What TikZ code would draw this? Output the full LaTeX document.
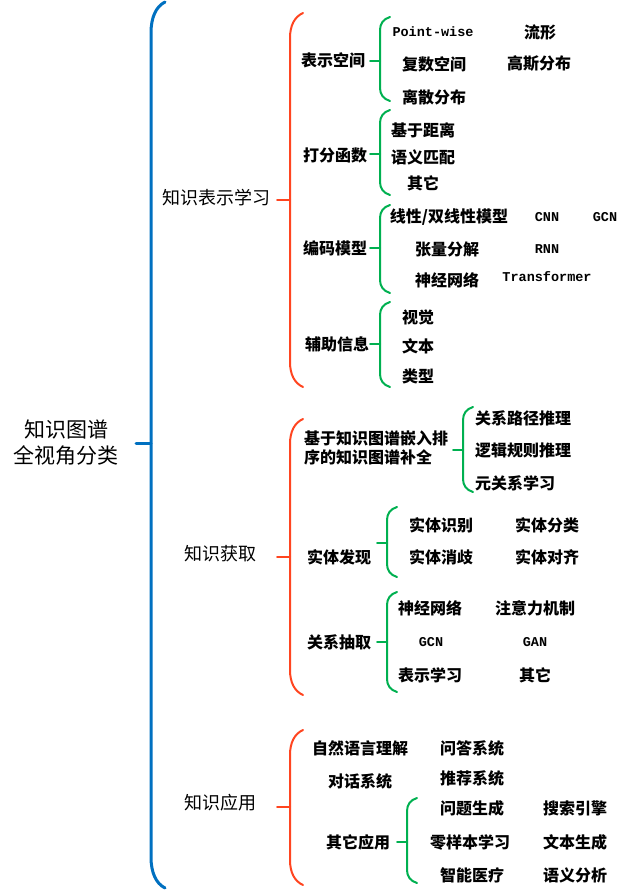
\documentclass[tikz,border=0pt]{standalone}
\usepackage{fontspec}
\setmainfont{Noto Sans CJK SC}
\newfontfamily\monofnt{Liberation Mono}
\definecolor{kgblue}{RGB}{0,112,192}
\definecolor{kgred}{RGB}{255,69,32}
\definecolor{kggreen}{RGB}{0,176,80}
% #1 style, #2 x, #3 top, #4 bottom, #5 dx, #6 dy
\newcommand{\bracepath}[6]{%
  \draw[#1] ({#2+#5},#3) .. controls ({#2+#5*0.35},{#3+#6*0.15}) and (#2,{#3+#6*0.5}) .. (#2,{#3+#6})
    -- (#2,{#4-#6}) .. controls (#2,{#4-#6*0.5}) and ({#2+#5*0.35},{#4-#6*0.15}) .. ({#2+#5},#4);}
\begin{document}
\begin{tikzpicture}[x=1pt,y=-1pt,
  root/.style={font=\fontsize{21}{26}\selectfont, align=center, inner sep=0pt},
  lvone/.style={font=\fontsize{18}{22}\selectfont, inner sep=0pt},
  lvtwo/.style={font=\fontsize{16}{19}\selectfont\bfseries, inner sep=0pt, align=left},
  leaf/.style={font=\fontsize{16}{19}\selectfont\bfseries, inner sep=0pt},
  mono/.style={font=\fontsize{13.5}{15}\selectfont\monofnt\bfseries, inner sep=0pt},
  bl/.style={draw=kgblue, line width=3pt, line cap=round},
  rl/.style={draw=kgred, line width=2pt, line cap=round},
  gl/.style={draw=kggreen, line width=2pt, line cap=round}]
\useasboundingbox (0,0) rectangle (626,893);

% root
\node[root] (root) at (66,443) {知识图谱\\全视角分类};
\bracepath{bl}{151}{2}{888}{14}{31}
\coordinate (B0) at (151,443);
\draw[bl] (B0) -- ++(-15,0);

% level 1
\node[lvone] (k1) at (216,198) {知识表示学习};
\node[lvone] (k2) at (220,554) {知识获取};
\node[lvone] (k3) at (220,803) {知识应用};

\bracepath{rl}{290}{13}{387}{13}{25}
\bracepath{rl}{290}{419}{695}{13}{25}
\bracepath{rl}{290}{730}{885}{13}{25}
\coordinate (R1) at (290,200);
\coordinate (R2) at (290,557);
\coordinate (R3) at (290,807);
\draw[rl] (R1) -- ++(-13,0);
\draw[rl] (R2) -- ++(-13,0);
\draw[rl] (R3) -- ++(-13,0);

% level 2, group 1
\node[lvtwo] (a1) at (333,60) {表示空间};
\node[lvtwo] (a2) at (335,155) {打分函数};
\node[lvtwo] (a3) at (335,248) {编码模型};
\node[lvtwo] (a4) at (337,344) {辅助信息};

\bracepath{gl}{380}{17}{101}{10}{13}
\bracepath{gl}{380}{110}{195}{10}{13}
\bracepath{gl}{380}{205}{293}{10}{13}
\bracepath{gl}{380}{302}{387}{10}{13}
\coordinate (G1) at (380,61);
\coordinate (G2) at (380,154);
\coordinate (G3) at (380,248);
\coordinate (G4) at (380,344);
\draw[gl] (G1) -- ++(-10,0);
\draw[gl] (G2) -- ++(-10,0);
\draw[gl] (G3) -- ++(-10,0);
\draw[gl] (G4) -- ++(-10,0);

\node[mono] (l1) at (433,32) {Point-wise};
\node[leaf] (l2) at (540,32) {流形};
\node[leaf] (l3) at (434,64) {复数空间};
\node[leaf] (l4) at (539,64) {高斯分布};
\node[leaf] (l5) at (434,97) {离散分布};

\node[leaf] (l6) at (423,130) {基于距离};
\node[leaf] (l7) at (423,157) {语义匹配};
\node[leaf] (l8) at (423,183) {其它};

\node[leaf] (l9) at (449,217) {线性/双线性模型};
\node[mono] (l10) at (547,217) {CNN};
\node[mono] (l11) at (605,217) {GCN};
\node[leaf] (l12) at (447,249) {张量分解};
\node[mono] (l13) at (547,249) {RNN};
\node[leaf] (l14) at (447,280) {神经网络};
\node[mono] (l15) at (547,277) {Transformer};

\node[leaf] (l16) at (418,317) {视觉};
\node[leaf] (l17) at (418,346) {文本};
\node[leaf] (l18) at (418,376) {类型};

% level 2, group 2
\node[lvtwo, anchor=west] (b1) at (304,448) {基于知识图谱嵌入排\\序的知识图谱补全};
\node[lvtwo] (b2) at (339,557) {实体发现};
\node[lvtwo] (b3) at (339,642) {关系抽取};

\bracepath{gl}{463}{407}{492}{10}{13}
\bracepath{gl}{387}{507}{577}{10}{13}
\bracepath{gl}{387}{592}{692}{10}{13}
\coordinate (G5) at (463,450);
\coordinate (G6) at (387,543);
\coordinate (G7) at (387,642);
\draw[gl] (G5) -- ++(-10,0);
\draw[gl] (G6) -- ++(-10,0);
\draw[gl] (G7) -- ++(-10,0);

\node[leaf, anchor=west] (m1) at (475,418) {关系路径推理};
\node[leaf, anchor=west] (m2) at (475,450) {逻辑规则推理};
\node[leaf, anchor=west] (m3) at (475,483) {元关系学习};

\node[leaf] (m4) at (441,525) {实体识别};
\node[leaf] (m5) at (547,525) {实体分类};
\node[leaf] (m6) at (441,557) {实体消歧};
\node[leaf] (m7) at (547,557) {实体对齐};

\node[leaf] (m8) at (430,608) {神经网络};
\node[leaf] (m9) at (535,608) {注意力机制};
\node[mono] (m10) at (431,642) {GCN};
\node[mono] (m11) at (535,642) {GAN};
\node[leaf] (m12) at (430,675) {表示学习};
\node[leaf] (m13) at (535,675) {其它};

% level 2, group 3
\node[leaf] (c1) at (360,748) {自然语言理解};
\node[leaf] (c2) at (472,748) {问答系统};
\node[leaf] (c3) at (360,781) {对话系统};
\node[leaf] (c4) at (472,778) {推荐系统};
\node[lvtwo] (c5) at (358,842) {其它应用};

\bracepath{gl}{407}{798}{883}{10}{13}
\coordinate (G8) at (407,842);
\draw[gl] (G8) -- ++(-10,0);

\node[leaf] (n1) at (472,808) {问题生成};
\node[leaf] (n2) at (575,808) {搜索引擎};
\node[leaf] (n3) at (470,842) {零样本学习};
\node[leaf] (n4) at (575,842) {文本生成};
\node[leaf] (n5) at (472,875) {智能医疗};
\node[leaf] (n6) at (575,875) {语义分析};
\end{tikzpicture}
\end{document}
